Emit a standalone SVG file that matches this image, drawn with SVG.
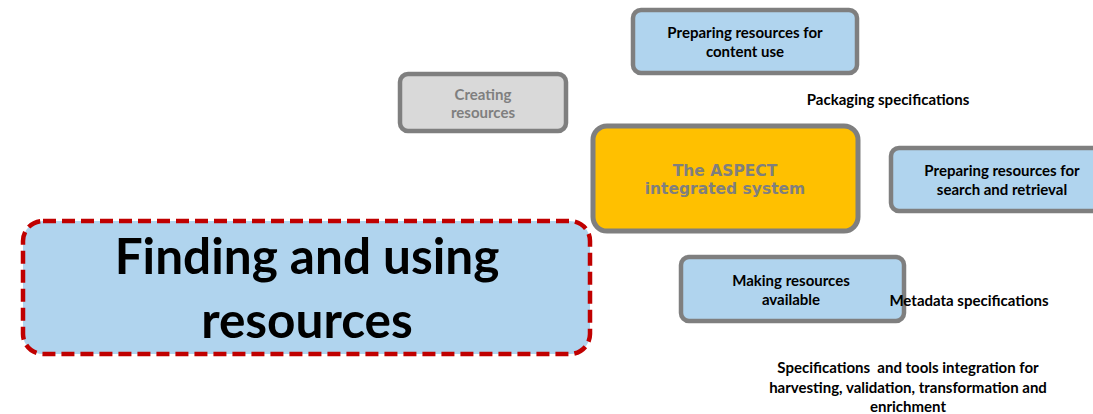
<svg xmlns="http://www.w3.org/2000/svg" width="1093" height="414" viewBox="0 0 1093 414">
<style>
.box{fill:#b0d4ee;stroke:#7f7f7f;stroke-width:4.5}
.t{font-family:Lato,"Liberation Sans",sans-serif;font-weight:bold;font-size:15px;fill:#000;text-anchor:middle}
.g{fill:#7f7f7f}
.v{font-family:"DejaVu Sans",Verdana,sans-serif;font-weight:bold;font-size:15.5px;fill:#7f7f7f;text-anchor:middle}
.big{font-family:Lato,"Liberation Sans",sans-serif;font-weight:bold;font-size:49.5px;fill:#000;text-anchor:middle}
</style>
<rect width="1093" height="414" fill="#fff"/>
<g id="creating">
<rect x="400" y="74" width="166" height="57" rx="8" fill="#d9d9d9" stroke="#7f7f7f" stroke-width="4.5"/>
<text class="t g" x="483" y="100">Creating</text>
<text class="t g" x="483" y="118">resources</text>
</g>
<g id="content">
<rect class="box" x="633" y="10" width="224" height="63" rx="8"/>
<text class="t" x="745" y="38">Preparing resources for</text>
<text class="t" x="745" y="57">content use</text>
</g>
<g id="packaging">
<text class="t" x="888" y="105">Packaging specifications</text>
</g>
<g id="aspect">
<rect x="593" y="126" width="265" height="105" rx="14" fill="#ffc000" stroke="#7f7f7f" stroke-width="5"/>
<text class="v" x="725" y="176">The ASPECT</text>
<text class="v" x="725" y="194">integrated system</text>
</g>
<g id="search">
<rect class="box" x="891" y="148" width="230" height="63" rx="8"/>
<text class="t" x="1002" y="176">Preparing resources for</text>
<text class="t" x="1002" y="195">search and retrieval</text>
</g>
<g id="making">
<rect class="box" x="681" y="257" width="223" height="64" rx="8"/>
<text class="t" x="791" y="286">Making resources</text>
<text class="t" x="791" y="305">available</text>
</g>
<g id="metadata">
<text class="t" x="969" y="306">Metadata specifications</text>
</g>
<g id="integration">
<text class="t" x="908" y="373">Specifications&#160; and tools integration for</text>
<text class="t" x="908" y="393">harvesting, validation, transformation and</text>
<text class="t" x="908" y="412">enrichment</text>
</g>
<g id="finding">
<rect x="23" y="221" width="567" height="133" rx="20" fill="#b0d4ee" stroke="#c00000" stroke-width="4.5" stroke-dasharray="13 6"/>
<text class="big" x="307" y="274">Finding and using</text>
<text class="big" x="307" y="338">resources</text>
</g>
<g id="connectors"></g>
</svg>
